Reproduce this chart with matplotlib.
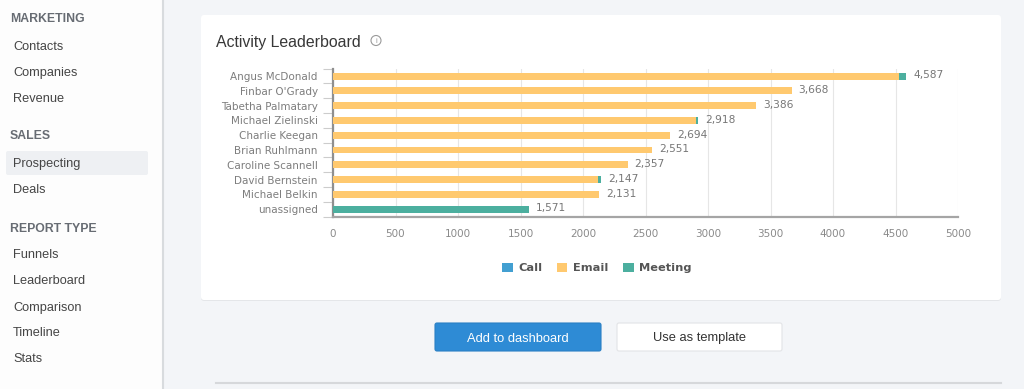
import matplotlib
matplotlib.use('Agg')
import matplotlib.pyplot as plt
from matplotlib.patches import Rectangle, FancyBboxPatch, Circle
from matplotlib.ticker import FixedLocator
import numpy as np

# data
names = ['Angus McDonald', "Finbar O'Grady", 'Tabetha Palmatary', 'Michael Zielinski',
         'Charlie Keegan', 'Brian Ruhlmann', 'Caroline Scannell', 'David Bernstein',
         'Michael Belkin', 'unassigned']
call = [0, 0, 0, 0, 0, 0, 0, 0, 0, 0]
email = [4530, 3668, 3386, 2905, 2694, 2551, 2357, 2120, 2131, 0]
meeting = [57, 0, 0, 13, 0, 0, 0, 27, 0, 1571]
x_ticks = [0, 500, 1000, 1500, 2000, 2500, 3000, 3500, 4000, 4500, 5000]

menu = [('MARKETING', 18, True), ('Contacts', 45, False), ('Companies', 71, False),
        ('Revenue', 97, False), ('SALES', 135, True), ('Prospecting', 162, False),
        ('Deals', 188, False), ('REPORT TYPE', 228, True), ('Funnels', 254, False),
        ('Leaderboard', 280, False), ('Comparison', 306, False), ('Timeline', 331, False),
        ('Stats', 357, False)]

c_call = '#429fd1'
c_email = '#ffc96f'
c_meet = '#4caf9f'
ui_font = ['Liberation Sans', 'DejaVu Sans']

W, H = 1024, 389
fig = plt.figure(figsize=(W / 100, H / 100), dpi=100)
fig.patch.set_facecolor('#f3f5f8')

# page background drawn in pixel coords
bg = fig.add_axes([0, 0, 1, 1])
bg.set_xlim(0, W)
bg.set_ylim(H, 0)
bg.axis('off')

bg.add_patch(Rectangle((0, 0), 162, H, facecolor='#fdfdfd', edgecolor='none'))
bg.plot([162.5, 162.5], [0, H], color='#d8dbde', lw=1.5)
bg.add_patch(FancyBboxPatch((6, 151), 142, 24, boxstyle='round,pad=0,rounding_size=2',
                            facecolor='#eef0f3', edgecolor='none'))
for label, y, head in menu:
    if head:
        bg.text(10, y + 1, label, fontsize=8.8, fontweight='bold', color='#676c73',
                va='center', ha='left', family=ui_font)
    else:
        bg.text(13, y + 1.5, label, fontsize=9.2, color='#454545', va='center', ha='left',
                family=ui_font)

# card
bg.add_patch(FancyBboxPatch((201, 16), 800, 285, boxstyle='round,pad=0,rounding_size=3',
                            facecolor='#e4e6e9', edgecolor='none'))
bg.add_patch(FancyBboxPatch((201, 15), 800, 285, boxstyle='round,pad=0,rounding_size=3',
                            facecolor='white', edgecolor='none'))
bg.text(216, 42, 'Activity Leaderboard', fontsize=11.4, color='#383838', va='center',
        ha='left', family=ui_font)
bg.add_patch(Circle((376, 40.5), 5, facecolor='none', edgecolor='#9a9a9a', lw=0.8))
bg.text(376, 41, 'i', fontsize=5.5, color='#9a9a9a', va='center', ha='center',
        family=ui_font)

# buttons
bg.add_patch(FancyBboxPatch((435, 323), 166, 28, boxstyle='round,pad=0,rounding_size=2',
                            facecolor='#2e8bd5', edgecolor='#2a7fc4', lw=0.8))
bg.text(518, 338.5, 'Add to dashboard', fontsize=9.3, color='white', va='center',
        ha='center', family=ui_font)
bg.add_patch(FancyBboxPatch((617, 323), 165, 28, boxstyle='round,pad=0,rounding_size=2',
                            facecolor='white', edgecolor='#e2e4e7', lw=0.8))
bg.text(699.5, 338.5, 'Use as template', fontsize=9.3, color='#333333', va='center',
        ha='center', family=ui_font)
bg.plot([216, 1001], [383, 383], color='#d6d8db', lw=1.5)

# chart
ax = fig.add_axes([333 / W, 1 - 216.5 / H, 625 / W, 147.8 / H])
ax.set_facecolor('white')
y = np.arange(len(names))
h = 0.47
ax.barh(y, call, height=h, color=c_call, label='Call', zorder=3)
ax.barh(y, email, left=call, height=h, color=c_email, label='Email', zorder=3)
left_m = np.array(call) + np.array(email)
ax.barh(y, meeting, left=left_m, height=h, color=c_meet, label='Meeting', zorder=3)

totals = left_m + np.array(meeting)
for yi, t in zip(y, totals):
    ax.annotate(f'{t:,}', (t, yi), xytext=(5, 0.5), textcoords='offset points',
                va='center', ha='left', fontsize=7.7, color='#777777')

ax.set_xlim(0, 5000)
ax.set_ylim(len(names) - 0.5, -0.5)
ax.set_xticks(x_ticks)
ax.set_yticks(y)
ax.set_yticklabels(names)
ax.yaxis.set_minor_locator(FixedLocator(np.arange(-0.5, len(names), 1)))
ax.tick_params(axis='y', which='major', length=0, pad=11, labelsize=7.5, labelcolor='#7d7d7d')
ax.tick_params(axis='y', which='minor', length=7, color='#cccccc', width=0.8)
ax.tick_params(axis='x', length=0, pad=9, labelsize=7.5, labelcolor='#8a8a8a')
ax.grid(axis='x', color='#e6e6e6', lw=0.8, zorder=0)
for s in ['top', 'right']:
    ax.spines[s].set_visible(False)
ax.spines['left'].set_color('#8f8f8f')
ax.spines['left'].set_linewidth(1.6)
ax.spines['bottom'].set_color('#a5a5a5')
ax.spines['bottom'].set_linewidth(1.6)

leg = ax.legend(loc='center', bbox_to_anchor=(597 / W, 1 - 268 / H),
                bbox_transform=fig.transFigure, ncol=3, frameon=False,
                handlelength=0.9, handleheight=0.9, handletextpad=0.5,
                columnspacing=1.3, fontsize=8.2)
for t in leg.get_texts():
    t.set_color('#555555')
    t.set_fontweight('bold')

fig.savefig('out.png', dpi=100, facecolor=fig.get_facecolor())
